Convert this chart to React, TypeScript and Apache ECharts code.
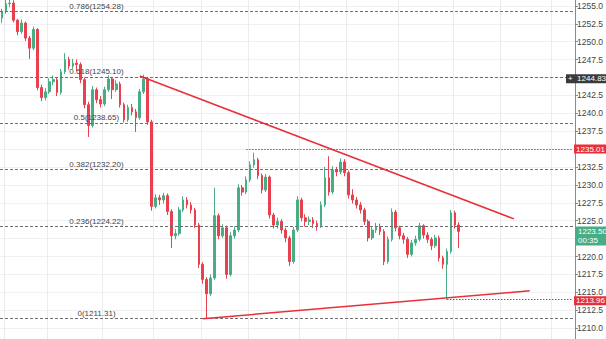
import React, { useEffect, useRef } from "react";
import * as echarts from "echarts";

// ---- data ----
const totalSlots = 146;
const categories = Array.from({ length: totalSlots }, (_, i) => String(i));

const opens = [
  1253.3, 1254.2, 1255.3, 1255.4, 1253.0, 1251.4, 1252.6, 1250.5, 1249.1, 1251.7,
  1243.6, 1242.2, 1243.0, 1244.4, 1244.7, 1242.9, 1245.8, 1247.5, 1246.6, 1247.0,
  1246.8, 1244.7, 1241.2, 1238.3, 1243.3, 1241.9, 1241.3, 1243.3, 1244.8, 1243.3,
  1244.1, 1241.2, 1239.1, 1240.8, 1240.2, 1239.4, 1243.0, 1244.8, 1238.8, 1227.0,
  1228.2, 1227.9, 1228.5, 1226.3, 1222.9, 1223.2, 1226.5, 1227.9, 1227.2, 1226.5,
  1224.4, 1218.9, 1216.8, 1214.8, 1217.0, 1225.7, 1222.9, 1224.0, 1217.5, 1222.9,
  1223.7, 1229.6, 1229.0, 1230.7, 1232.8, 1233.5, 1231.3, 1229.3, 1231.1, 1225.8,
  1224.4, 1224.9, 1223.7, 1222.6, 1219.3, 1223.7, 1227.9, 1225.4, 1224.9, 1225.1,
  1224.6, 1224.3, 1227.2, 1231.0, 1229.0, 1232.1, 1231.8, 1233.2, 1231.7, 1228.6,
  1227.9, 1227.2, 1226.5, 1224.9, 1222.6, 1223.7, 1224.2, 1223.5, 1219.3, 1222.4,
  1226.2, 1224.0, 1222.9, 1222.4, 1220.3, 1221.9, 1222.4, 1224.3, 1223.0, 1222.4,
  1221.5, 1222.6, 1219.8, 1218.9, 1220.7, 1226.1, 1224.4,
];
const closes = [
  1254.2, 1255.3, 1255.4, 1253.0, 1251.4, 1252.6, 1250.5, 1249.1, 1251.7, 1243.6,
  1242.2, 1243.0, 1244.4, 1244.7, 1242.9, 1245.8, 1247.5, 1246.6, 1247.0, 1246.8,
  1244.7, 1241.2, 1238.3, 1243.3, 1241.9, 1241.3, 1243.3, 1244.8, 1243.3, 1244.1,
  1241.2, 1239.1, 1240.8, 1240.2, 1239.4, 1243.0, 1244.8, 1238.8, 1227.0, 1228.2,
  1227.9, 1228.5, 1226.3, 1222.9, 1223.2, 1226.5, 1227.9, 1227.2, 1226.5, 1224.4,
  1218.9, 1216.8, 1214.8, 1217.0, 1225.7, 1222.9, 1224.0, 1217.5, 1222.9, 1223.7,
  1229.6, 1229.0, 1230.7, 1232.8, 1233.5, 1231.3, 1229.3, 1231.1, 1225.8, 1224.4,
  1224.9, 1223.7, 1222.6, 1219.3, 1223.7, 1227.9, 1225.4, 1224.9, 1225.1, 1224.6,
  1224.3, 1227.2, 1231.0, 1229.0, 1232.1, 1231.8, 1233.2, 1231.7, 1228.6, 1227.9,
  1227.2, 1226.5, 1224.9, 1222.6, 1223.7, 1224.2, 1223.5, 1219.3, 1222.4, 1226.2,
  1224.0, 1222.9, 1222.4, 1220.3, 1221.9, 1222.4, 1224.3, 1223.0, 1222.4, 1221.5,
  1222.6, 1219.8, 1218.9, 1220.7, 1226.1, 1224.4, 1223.5,
];
const lows = [
  1252.6, 1253.9, 1254.8, 1252.7, 1250.9, 1251.1, 1250.1, 1247.6, 1248.8, 1243.2,
  1241.7, 1241.8, 1242.7, 1243.9, 1242.4, 1242.6, 1245.5, 1246.1, 1246.2, 1245.9,
  1244.2, 1240.7, 1236.7, 1238.0, 1241.4, 1240.8, 1241.0, 1243.0, 1242.0, 1243.0,
  1240.8, 1238.7, 1238.8, 1239.7, 1237.4, 1239.1, 1242.7, 1238.4, 1226.4, 1226.7,
  1227.2, 1227.4, 1225.8, 1221.2, 1222.4, 1222.9, 1226.2, 1226.7, 1226.0, 1224.0,
  1218.4, 1216.2, 1211.31, 1214.5, 1216.7, 1222.4, 1222.6, 1216.9, 1217.2, 1222.5,
  1223.4, 1228.5, 1228.7, 1230.4, 1232.4, 1230.8, 1228.8, 1229.0, 1225.3, 1223.9,
  1223.9, 1223.2, 1222.0, 1218.7, 1219.0, 1223.4, 1224.9, 1224.2, 1224.4, 1224.0,
  1223.6, 1224.0, 1226.9, 1228.5, 1228.7, 1231.2, 1231.5, 1231.2, 1228.1, 1227.4,
  1226.7, 1226.0, 1224.4, 1222.1, 1222.3, 1223.3, 1223.0, 1218.8, 1219.0, 1222.1,
  1223.5, 1222.4, 1221.8, 1219.8, 1220.0, 1221.5, 1222.1, 1222.5, 1221.9, 1220.9,
  1221.2, 1219.3, 1218.3, 1213.96, 1220.4, 1223.9, 1221.2,
];
const highs = [
  1254.6, 1255.9, 1256.0, 1255.8, 1253.2, 1253.1, 1252.8, 1250.8, 1252.1, 1251.9,
  1244.0, 1243.5, 1244.9, 1245.3, 1245.0, 1246.2, 1248.4, 1247.9, 1247.6, 1247.5,
  1247.1, 1245.0, 1241.6, 1243.8, 1243.6, 1242.4, 1243.7, 1245.3, 1245.1, 1244.6,
  1244.4, 1241.5, 1241.2, 1241.3, 1240.6, 1243.4, 1245.4, 1245.0, 1239.1, 1228.7,
  1228.6, 1228.9, 1228.8, 1226.6, 1223.8, 1226.9, 1228.4, 1228.3, 1227.6, 1226.8,
  1224.7, 1219.2, 1217.1, 1217.5, 1229.6, 1226.0, 1224.5, 1224.3, 1223.4, 1224.2,
  1230.1, 1230.0, 1231.2, 1233.3, 1234.5, 1233.8, 1231.6, 1231.5, 1231.3, 1226.1,
  1225.4, 1225.2, 1224.0, 1222.9, 1224.1, 1228.4, 1228.2, 1225.9, 1225.6, 1225.5,
  1225.0, 1227.7, 1232.5, 1234.0, 1232.6, 1232.5, 1233.7, 1233.6, 1232.0, 1229.4,
  1228.3, 1227.6, 1226.8, 1225.2, 1224.1, 1224.7, 1224.6, 1223.8, 1222.8, 1226.7,
  1226.5, 1224.3, 1223.3, 1222.7, 1222.3, 1222.9, 1224.7, 1224.5, 1223.4, 1222.7,
  1223.0, 1222.9, 1220.1, 1221.1, 1226.5, 1226.4, 1224.8,
];

const fibRatios = ["0.786", "0.618", "0.5", "0.382", "0.236", "0"];
const fibValues = [1254.28, 1245.1, 1238.65, 1232.2, 1224.22, 1211.31];

const upperTrend = [
  [35, 1245.2],
  [130, 1225.25],
];
const lowerTrend = [
  [51, 1211.31],
  [134, 1215.2],
];
const resistanceLevel = { start: 62, value: 1235.01 };
const supportLevel = { start: 113, value: 1213.96 };
const crosshairPrice = 1244.83;
const lastPrice = 1223.5;
const countdown = "00:35";

// axis tick labels that are not visible: under the price boxes or outside the picture
const hiddenTicks = [1257.5, 1245.0, 1235.0, 1222.5, 1207.5];

const gridLineSlots = [1, 12, 26, 39, 51, 63, 76, 88, 101, 115, 127, 140];

const UP = "#47ad84";
const DOWN = "#e8404f";
const RED = "#e8303a";
const FONT = "Liberation Sans, Arial, sans-serif";

// the plotted price window is wider than the visible picture; it is cropped
const PX_PER_UNIT = 7.167;
const Y_MIN = 1207.5;
const Y_MAX = 1257.5;
const TOP_OFFSET = -11.9;

export default function App() {
  const ref = useRef<HTMLDivElement>(null);

  useEffect(() => {
    if (!ref.current) return;
    const chart = echarts.init(ref.current, null, { renderer: "svg" });
    const candleData = opens.map((o, i) => [o, closes[i], lows[i], highs[i]]);
    const lastSlot = totalSlots - 1;

    const fibLines = fibValues.map((v) => ({
      yAxis: v,
      lineStyle: { color: "#6e6e6e", type: [3, 2], width: 1 },
      label: { show: false },
    }));

    const endLabel = (text: string, bg: string, extra: any = {}) => ({
      show: true,
      position: "end",
      formatter: text,
      backgroundColor: bg,
      color: "#fff",
      fontSize: 8,
      lineHeight: 8,
      fontFamily: FONT,
      padding: [1, 2, 0, 2],
      distance: 1,
      ...extra,
    });

    const option: any = {
      animation: false,
      backgroundColor: "#ffffff",
      grid: { left: 0, right: 23, top: 0, bottom: 0, containLabel: false },
      xAxis: {
        type: "category",
        data: categories,
        boundaryGap: true,
        axisLine: { show: false },
        axisTick: { show: false },
        axisLabel: { show: false },
        splitLine: {
          show: true,
          interval: (idx: number) => gridLineSlots.indexOf(idx) >= 0,
          lineStyle: { color: "#ececec", width: 1 },
        },
      },
      yAxis: {
        type: "value",
        position: "right",
        min: Y_MIN,
        max: Y_MAX,
        interval: 2.5,
        axisLine: { show: true, lineStyle: { color: "#8a8a8a" } },
        axisTick: { show: true, length: 3, lineStyle: { color: "#8a8a8a" } },
        axisLabel: {
          fontSize: 8.5,
          lineHeight: 9,
          color: "#444",
          fontFamily: FONT,
          margin: 2,
          formatter: (v: number) =>
            hiddenTicks.some((c) => Math.abs(c - v) < 0.01) ? "" : v.toFixed(1),
        },
        splitLine: { show: true, lineStyle: { color: "#f0f0f0" } },
      },
      series: [
        {
          type: "candlestick",
          data: candleData,
          barWidth: 2.2,
          itemStyle: {
            color: UP,
            color0: DOWN,
            borderColor: UP,
            borderColor0: DOWN,
            borderWidth: 1,
          },
          markLine: {
            silent: true,
            symbol: ["none", "none"],
            animation: false,
            data: [
              ...fibLines,
              [
                {
                  coord: [resistanceLevel.start, resistanceLevel.value],
                  lineStyle: { color: RED, type: [1.5, 1.5], width: 1 },
                  label: endLabel(resistanceLevel.value.toFixed(2), RED),
                },
                { coord: [lastSlot, resistanceLevel.value] },
              ],
              [
                {
                  coord: [supportLevel.start, supportLevel.value],
                  lineStyle: { color: RED, type: [1.5, 1.5], width: 1 },
                  label: endLabel(supportLevel.value.toFixed(2), RED, {
                    offset: [0, 1],
                  }),
                },
                { coord: [lastSlot, supportLevel.value] },
              ],
              [
                {
                  coord: upperTrend[0],
                  lineStyle: { color: RED, type: "solid", width: 1.5 },
                  label: { show: false },
                },
                { coord: upperTrend[1] },
              ],
              [
                {
                  coord: lowerTrend[0],
                  lineStyle: { color: RED, type: "solid", width: 1.5 },
                  label: { show: false },
                },
                { coord: lowerTrend[1] },
              ],
              {
                yAxis: crosshairPrice,
                lineStyle: { color: "transparent", width: 0 },
                label: endLabel("+  " + crosshairPrice.toFixed(2), "#3b3b3b", {
                  offset: [-10, 0],
                }),
              },
              {
                yAxis: lastPrice,
                lineStyle: { color: "transparent", width: 0 },
                label: endLabel(lastPrice.toFixed(2) + "\n" + countdown, UP, {
                  lineHeight: 9,
                  offset: [0, 4.5],
                }),
              },
            ],
          },
          markPoint: {
            silent: true,
            symbol: "rect",
            symbolSize: 0,
            animation: false,
            label: {
              show: true,
              position: "top",
              distance: 1,
              color: "#444",
              fontSize: 8,
              fontFamily: FONT,
            },
            data: fibValues.map((v, i) => ({
              coord: [24, v],
              label: { formatter: `${fibRatios[i]}(${v.toFixed(2)})` },
            })),
          },
        },
      ],
    };
    chart.setOption(option);
    return () => chart.dispose();
  }, []);

  const fullHeight = (Y_MAX - Y_MIN) * PX_PER_UNIT;

  return (
    <div
      style={{
        position: "absolute",
        left: 0,
        top: 0,
        width: 606,
        height: 339,
        overflow: "hidden",
        background: "#fff",
      }}
    >
      <div
        ref={ref}
        style={{
          position: "absolute",
          left: 0,
          top: TOP_OFFSET,
          width: 606,
          height: fullHeight,
        }}
      />
    </div>
  );
}
